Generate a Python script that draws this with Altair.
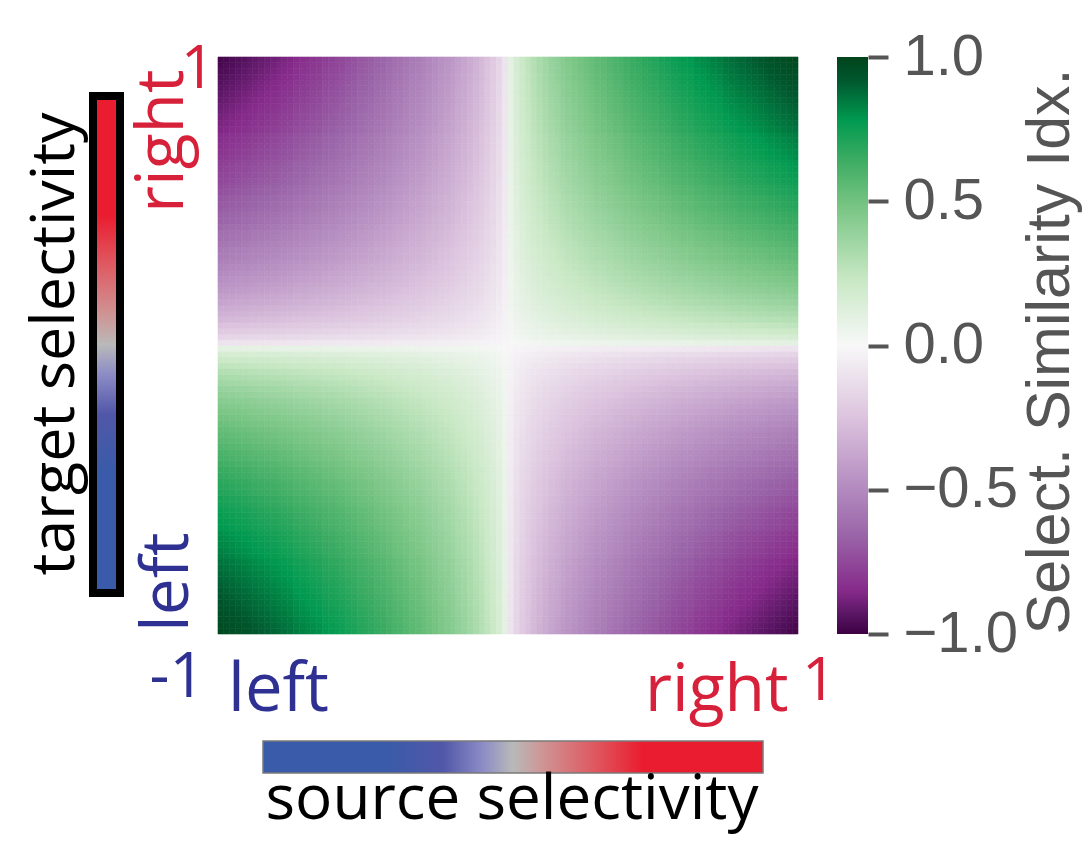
import numpy as np
import pandas as pd
import altair as alt

# ---------------- data ----------------
# selectivity bins (source on x, target on y), 0.02 wide, from -1 to 1
sel_edges = [round(-1 + 0.02 * i, 2) for i in range(101)]
# similarity index read along the edge where the other selectivity is +/-1,
# for |selectivity| bins 0-0.02, 0.02-0.04, ..., 0.98-1.0
edge_profile = [0.10, 0.17, 0.22, 0.26, 0.30, 0.33, 0.36, 0.39, 0.41, 0.44,
                0.46, 0.48, 0.50, 0.52, 0.54, 0.56, 0.57, 0.59, 0.61, 0.62,
                0.64, 0.66, 0.67, 0.69, 0.70, 0.71, 0.73, 0.74, 0.76, 0.77,
                0.78, 0.79, 0.81, 0.82, 0.83, 0.84, 0.85, 0.87, 0.88, 0.89,
                0.90, 0.91, 0.92, 0.93, 0.94, 0.95, 0.96, 0.97, 0.98, 0.99]

# colour map of the "Select. Similarity Idx." bar
cmap_domain = [-1, -0.93, -0.85, -0.66, -0.49, -0.25, 0, 0.23, 0.5, 0.65, 0.78, 0.92, 1]
cmap_colors = ['#3d0043', '#5a1664', '#862a8a', '#9a64a8', '#b48cc0', '#dcc3de', '#f8f8f8',
               '#c8e8c4', '#72c27f', '#3aab62', '#009a50', '#00572e', '#00441b']
cbar_ticks = [-1.0, -0.5, 0.0, 0.5, 1.0]
cbar_title = "Select. Similarity Idx."

# selectivity (left -> right) colour bars
sel_offsets = [0, 0.25, 0.36, 0.44, 0.5, 0.56, 0.66, 0.76, 1]
sel_colors = ['#3a5ba9', '#3a5ba9', '#5157a8', '#8c8cc6', '#b9b9b9', '#cf9494', '#de5a62', '#ea1c2f', '#ea1c2f']

word_low, word_high = "left", "right"
num_low, num_high = "-1", "1"
source_title = "source selectivity"
target_title = "target selectivity"

BLUE = '#2e3192'
RED = '#d7213b'
GRAY = '#555555'
TXT_FONT = 'Open Sans'
AX_FONT = 'Liberation Sans'

# ---------------- build heatmap table ----------------
n_half = len(edge_profile)
rows = []
for i in range(2 * n_half):
    si = 1 if i >= n_half else -1
    mi = i - n_half if i >= n_half else n_half - 1 - i
    for j in range(2 * n_half):
        sj = 1 if j >= n_half else -1
        mj = j - n_half if j >= n_half else n_half - 1 - j
        rows.append({
            's0': sel_edges[i], 's1': sel_edges[i + 1],
            't0': sel_edges[j], 't1': sel_edges[j + 1],
            'v': round(si * sj * edge_profile[mi] * edge_profile[mj], 3),
        })
heat_df = pd.DataFrame(rows)

W, H = 580, 577

color_scale = alt.Scale(domain=cmap_domain, range=cmap_colors, interpolate='rgb')

heat = alt.Chart(heat_df).mark_rect(strokeWidth=0.6).encode(
    x=alt.X('s0:Q', scale=alt.Scale(domain=[-1, 1], nice=False, zero=False), axis=None),
    x2='s1:Q',
    y=alt.Y('t0:Q', scale=alt.Scale(domain=[-1, 1], nice=False, zero=False), axis=None),
    y2='t1:Q',
    color=alt.Color('v:Q', scale=color_scale, legend=None),
    stroke=alt.Stroke('v:Q', scale=color_scale, legend=None),
)

# similarity colour bar with its axis
cbar_grad = alt.LinearGradient(
    gradient='linear',
    stops=[alt.GradientStop(color=c, offset=(d + 1) / 2) for d, c in zip(cmap_domain, cmap_colors)],
    x1=0, x2=0, y1=1, y2=0)
cbar = alt.Chart(pd.DataFrame({'lo': [cmap_domain[0]], 'hi': [cmap_domain[-1]]})).mark_rect(
    fill=cbar_grad).encode(
    x=alt.value(619), x2=alt.value(650),
    y=alt.Y('lo:Q', scale=alt.Scale(domain=[-1, 1], nice=False, zero=False),
            axis=alt.Axis(orient='right', offset=70, values=cbar_ticks, format='.1f',
                          tickSize=20, tickWidth=4, tickColor=GRAY, domain=False, grid=False,
                          labelFont=AX_FONT, labelFontSize=58, labelColor=GRAY, labelPadding=15,
                          title=cbar_title, titleFont=AX_FONT, titleFontSize=61,
                          titleFontWeight='normal', titleColor=GRAY, titleAngle=270,
                          titleAlign='center', titleBaseline='alphabetic',
                          titleX=200, titleY=294)),
    y2='hi:Q',
)

sel_grad_h = alt.LinearGradient(
    gradient='linear',
    stops=[alt.GradientStop(color=c, offset=o) for o, c in zip(sel_offsets, sel_colors)],
    x1=0, x2=1, y1=0, y2=0)
sel_grad_v = alt.LinearGradient(
    gradient='linear',
    stops=[alt.GradientStop(color=c, offset=o) for o, c in zip(sel_offsets, sel_colors)],
    x1=0, x2=0, y1=1, y2=0)

one = pd.DataFrame({'k': [0]})
bar_bottom = alt.Chart(one).mark_rect(fill=sel_grad_h, stroke='#7a7a7a', strokeWidth=1.5).encode(
    x=alt.value(45), x2=alt.value(545), y=alt.value(684), y2=alt.value(716))
bar_left = alt.Chart(one).mark_rect(fill=sel_grad_v, stroke='black', strokeWidth=8).encode(
    x=alt.value(-125), x2=alt.value(-98), y=alt.value(39), y2=alt.value(536))


def label(text, x, y, size, color, align='left', angle=0, font=TXT_FONT):
    return alt.Chart(pd.DataFrame({'t': [text]})).mark_text(
        font=font, fontSize=size, color=color, align=align, baseline='alphabetic',
        angle=angle).encode(text='t:N', x=alt.value(x), y=alt.value(y))


texts = [
    label(target_title, -144, 287, 61, 'black', align='center', angle=270),
    label(word_high, -35, 156, 66, RED, angle=270),
    label(word_low, -30, 575, 66, BLUE, angle=270),
    label(num_high, -20, 31, 60, RED, align='center'),
    label(num_low, -13, 640, 62, BLUE, align='right'),
    label(word_low, 10, 654, 67, BLUE),
    label(word_high, 427, 654, 66, RED),
    label(num_high, 584, 643, 60, RED),
    label(source_title, 294, 762, 62, 'black', align='center'),
]

chart = alt.layer(heat, cbar, bar_bottom, bar_left, *texts).resolve_scale(
    x='independent', y='independent', color='independent', stroke='independent'
).properties(
    width=W, height=H,
    autosize=alt.AutoSizeParams(type='none'),
    padding={'left': 210, 'top': 49, 'right': 286, 'bottom': 204},
).configure_view(stroke=None)

chart.save("out.html", embed_options={"renderer": "svg", "actions": False})
